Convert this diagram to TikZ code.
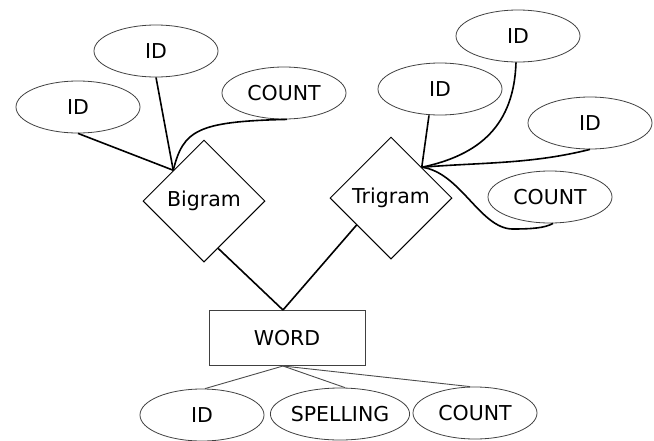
\documentclass[tikz,border=0pt]{standalone}
\usepackage{fontspec}
\setmainfont{DejaVu Sans}
\usetikzlibrary{shapes.geometric,calc}
\begin{document}
\begin{tikzpicture}[x=1pt,y=-1pt,
  every node/.style={font=\fontsize{20.5}{24}\selectfont, text=black},
  attr/.style={ellipse, draw=black!75, line width=0.8pt, minimum width=124pt, minimum height=52pt, inner sep=0pt},
  rel/.style={diamond, draw=black, line width=1pt, minimum width=122pt, minimum height=122pt, inner sep=0pt},
  ent/.style={rectangle, draw=black!75, line width=1pt, minimum width=156pt, minimum height=55pt, inner sep=0pt},
  conn/.style={draw=black, line width=1.6pt},
  thinconn/.style={draw=black!70, line width=0.9pt}]
\useasboundingbox (0,0) rectangle (654,440);
% Bigram side
\node[rel] (B) at (204,201) {Bigram};
\node[attr] (BIDl) at (78,107) {ID};
\node[attr] (BIDt) at (156,51) {ID};
\node[attr] (BCnt) at (284,93) {COUNT};
% Trigram side
\node[rel] (T) at (391,198) {Trigram};
\node[attr] (TIDm) at (440,89) {ID};
\node[attr] (TIDt) at (518,36) {ID};
\node[attr] (TIDr) at (590,123) {ID};
\node[attr] (TCnt) at (550,197) {COUNT};
% Word
\node[ent] (W) at (287,338) {WORD};
\node[attr] (WID) at (202,415) {ID};
\node[attr] (WSp) at (340,414) {SPELLING};
\node[attr] (WCnt) at (475,413) {COUNT};
% anchor coordinates
\coordinate (bj) at (B.north west);
\coordinate (tj) at (T.north east);
\coordinate (bl) at ($(B.east)!0.77!(B.south)$);
\coordinate (tl) at ($(T.west)!0.44!(T.south)$);
\coordinate (wm) at ($(W.north)+(-4,0)$);
\coordinate (wb) at ($(W.south)+(-4,0)$);
% Bigram connectors
\draw[conn] (BIDl.south) -- (bj);
\draw[conn] (BIDt.south) -- (bj);
\draw[conn] ($(BCnt.south)+(3,0)$) .. controls +(-90,2) and +(10,-40) .. (bj);
% Trigram connectors
\draw[conn] ($(TIDm.south)+(-11,0)$) -- (tj);
\draw[conn] ($(TIDt.south)+(-2,0)$) .. controls (514,125) and (480,155) .. (tj);
\draw[conn] (TIDr.south) .. controls +(-60,15) and +(60,-5) .. (tj);
\draw[conn] (tj) .. controls (460,172) and (480,228) .. (512,229) .. controls (532,229) and (545,228) .. ($(TCnt.south)+(3,0)$);
% relationship to entity
\draw[conn] (bl) -- (wm);
\draw[conn] (tl) -- (wm);
% entity attributes
\draw[thinconn] (wb) -- ($(WID.north)+(3,0)$);
\draw[thinconn] (wb) -- ($(WSp.north)+(5,0)$);
\draw[thinconn] (wb) -- ($(WCnt.north)+(-5,0)$);
\end{tikzpicture}
\end{document}
